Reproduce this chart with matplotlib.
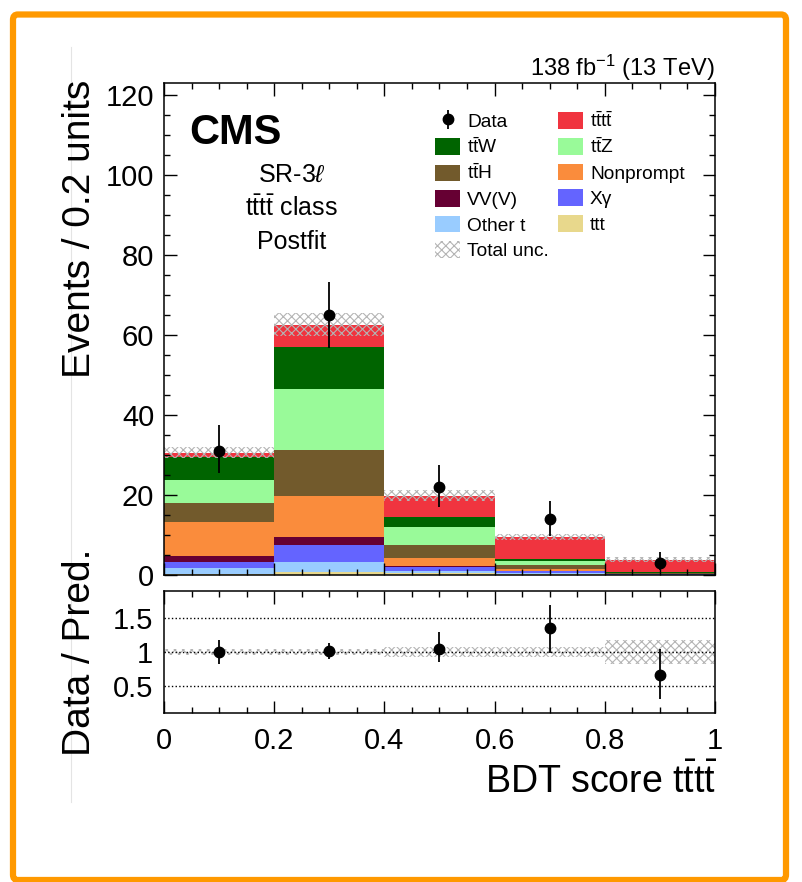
import matplotlib
matplotlib.use("Agg")
import matplotlib.pyplot as plt
import numpy as np
from matplotlib.patches import Patch, FancyBboxPatch
from matplotlib.lines import Line2D
from matplotlib.ticker import MultipleLocator, FuncFormatter

plt.rcParams['font.family'] = ['Liberation Sans', 'DejaVu Sans']
plt.rcParams['mathtext.fontset'] = 'custom'
plt.rcParams['mathtext.rm'] = 'Liberation Sans'
plt.rcParams['mathtext.it'] = 'Liberation Sans:italic'
plt.rcParams['mathtext.bf'] = 'Liberation Sans:bold'
plt.rcParams['hatch.linewidth'] = 0.8

# binning of the BDT score
bin_edges = [0.0, 0.2, 0.4, 0.6, 0.8, 1.0]
bin_centres = [0.1, 0.3, 0.5, 0.7, 0.9]

# postfit yields, stacked bottom -> top
ttt = [0.2, 0.7, 0.4, 0.2, 0.05]
other_t = [1.5, 2.6, 0.7, 0.3, 0.05]
x_gamma = [1.6, 4.2, 0.8, 0.4, 0.05]
vvv = [1.4, 1.9, 0.3, 0.1, 0.02]
nonprompt = [8.6, 10.4, 2.0, 0.4, 0.1]
tth = [4.7, 11.5, 3.4, 1.0, 0.15]
ttz = [5.8, 15.2, 4.3, 1.0, 0.15]
ttw = [5.6, 10.4, 2.5, 0.6, 0.2]
tttt = [1.2, 5.7, 5.4, 5.6, 3.1]
total_unc = [1.4, 2.8, 1.4, 0.75, 0.62]

# observed data with asymmetric error bars
data = [31, 65, 22, 14, 3]
data_lo = [25.5, 56.8, 17.1, 9.8, 1.2]
data_hi = [37.5, 73.3, 27.4, 18.6, 5.7]

# ratio panel
ratio = [1.00, 1.02, 1.05, 1.36, 0.66]
ratio_lo = [0.82, 0.90, 0.85, 0.99, 0.30]
ratio_hi = [1.18, 1.13, 1.29, 1.69, 1.04]
ratio_unc = [0.05, 0.05, 0.08, 0.08, 0.17]

tt = r'$\mathrm{t\bar{t}}$'
tttt_lbl = r'$\mathrm{t\bar{t}t\bar{t}}$'
procs = [
    ("ttt", ttt, '#E8D88C'),
    ("Other t", other_t, '#99CCFF'),
    ("X\u03b3", x_gamma, '#6464FF'),
    ("VV(V)", vvv, '#660033'),
    ("Nonprompt", nonprompt, '#FA8C3C'),
    (tt + "H", tth, '#725A2C'),
    (tt + "Z", ttz, '#99FA99'),
    (tt + "W", ttw, '#006400'),
    (tttt_lbl, tttt, '#F0343F'),
]

W, H = 803, 882
fig = plt.figure(figsize=(W / 100, H / 100), dpi=100)

def fbox(l, t, r, b):
    return [l / W, 1 - b / H, (r - l) / W, (b - t) / H]

ax = fig.add_axes(fbox(164, 83, 715, 575))
axr = fig.add_axes(fbox(164, 591, 715, 713), sharex=ax)

left = np.array(bin_edges[:-1])
bottom = np.zeros(len(left))
handles = {}
for name, vals, col in procs:
    ax.bar(left, vals, width=0.2, bottom=bottom, align='edge', color=col, linewidth=0)
    handles[name] = Patch(facecolor=col, edgecolor='none', label=name)
    bottom += np.array(vals)

unc = np.array(total_unc)
ax.bar(left, 2 * unc, width=0.2, bottom=bottom - unc, align='edge',
       facecolor='none', edgecolor='#b4b4b4', hatch='xxxx', linewidth=0)

d = np.array(data)
eb = ax.errorbar(bin_centres, d, yerr=[d - np.array(data_lo), np.array(data_hi) - d],
                 fmt='o', color='black', ms=7.5, elinewidth=1.3, capsize=0, label='Data')

unc_h = Patch(facecolor='none', edgecolor='#b4b4b4', hatch='xxxx', linewidth=0, label='Total unc.')
order = [eb, handles[tt + "W"], handles[tt + "H"], handles["VV(V)"], handles["Other t"], unc_h,
         handles[tttt_lbl], handles[tt + "Z"], handles["Nonprompt"],
         handles["X\u03b3"], handles["ttt"]]
labels = ['Data', tt + "W", tt + "H", "VV(V)", "Other t", "Total unc.",
          tttt_lbl, tt + "Z", "Nonprompt", "X\u03b3", "ttt"]
ax.legend(order, labels, ncol=2, loc='upper left', bbox_to_anchor=(0.475, 0.962),
          frameon=False, fontsize=13.8, handlelength=1.3, handleheight=0.95,
          handletextpad=0.35, labelspacing=0.35, columnspacing=0.5, borderpad=0)

ax.set_xlim(0, 1)
ax.set_ylim(0, 123)
ax.xaxis.set_major_locator(MultipleLocator(0.2))
ax.xaxis.set_minor_locator(MultipleLocator(0.05))
ax.yaxis.set_major_locator(MultipleLocator(20))
ax.yaxis.set_minor_locator(MultipleLocator(5))
ax.tick_params(which='both', direction='in', top=True, right=True, labelbottom=False,
               labelsize=21, width=1)
ax.tick_params(which='major', length=9, pad=7)
ax.tick_params(which='minor', length=4.5)

# ratio panel
ru = np.array(ratio_unc)
axr.bar(left, 2 * ru, width=0.2, bottom=1 - ru, align='edge',
        facecolor='none', edgecolor='#b4b4b4', hatch='xxxx', linewidth=0)
for yl in [0.5, 1.0, 1.5]:
    axr.axhline(yl, color='black', ls=':', lw=1)
r = np.array(ratio)
axr.errorbar(bin_centres, r, yerr=[r - np.array(ratio_lo), np.array(ratio_hi) - r],
             fmt='o', color='black', ms=7.5, elinewidth=1.3, capsize=0)
axr.set_ylim(0.1, 1.9)
axr.set_yticks([0.5, 1.0, 1.5])
axr.set_yticklabels(['0.5', '1', '1.5'])
axr.xaxis.set_major_formatter(FuncFormatter(lambda v, p: '%g' % round(v, 2)))
axr.tick_params(axis='x', which='both', direction='in', top=True, labelsize=21, width=1)
axr.tick_params(axis='x', which='major', length=9, pad=10)
axr.tick_params(axis='x', which='minor', length=4.5)
axr.tick_params(axis='y', length=0, labelsize=21, pad=8)

for a in (ax, axr):
    for s in a.spines.values():
        s.set_linewidth(1.1)

# texts
ax.text(0.045, 0.94, 'CMS', transform=ax.transAxes, fontsize=30, fontweight='bold', va='top', ha='left')
ax.text(0.232, 0.813, r'SR-3$\ell$', transform=ax.transAxes, fontsize=18, ha='center', va='center')
ax.text(0.232, 0.746, tttt_lbl + ' class', transform=ax.transAxes, fontsize=18, ha='center', va='center')
ax.text(0.232, 0.677, 'Postfit', transform=ax.transAxes, fontsize=18, ha='center', va='center')
fig.text(715 / W, 1 - 76 / H, r'138 fb$^{-1}$ (13 TeV)', ha='right', va='baseline', fontsize=17)
fig.text(80 / W, 1 - 80 / H, 'Events / 0.2 units', rotation=90, ha='center', va='top', fontsize=28)
fig.text(80 / W, 1 - 652 / H, 'Data / Pred.', rotation=90, ha='center', va='center', fontsize=28)
fig.text(717 / W, 1 - 793 / H, 'BDT score ' + tttt_lbl, ha='right', va='baseline', fontsize=27)

# faint guide line and orange frame
fig.add_artist(Line2D([71 / W, 71 / W], [1 - 47 / H, 1 - 802 / H], color='#e4e4e4', lw=0.8))
fig.add_artist(FancyBboxPatch((13 / W, 1 - 880 / H), (786 - 13) / W, (880 - 14.5) / H,
                              boxstyle='round,pad=0,rounding_size=0.006', transform=fig.transFigure,
                              fill=False, edgecolor='#FF9900', linewidth=4.5))

fig.savefig('out.png', dpi=100)
